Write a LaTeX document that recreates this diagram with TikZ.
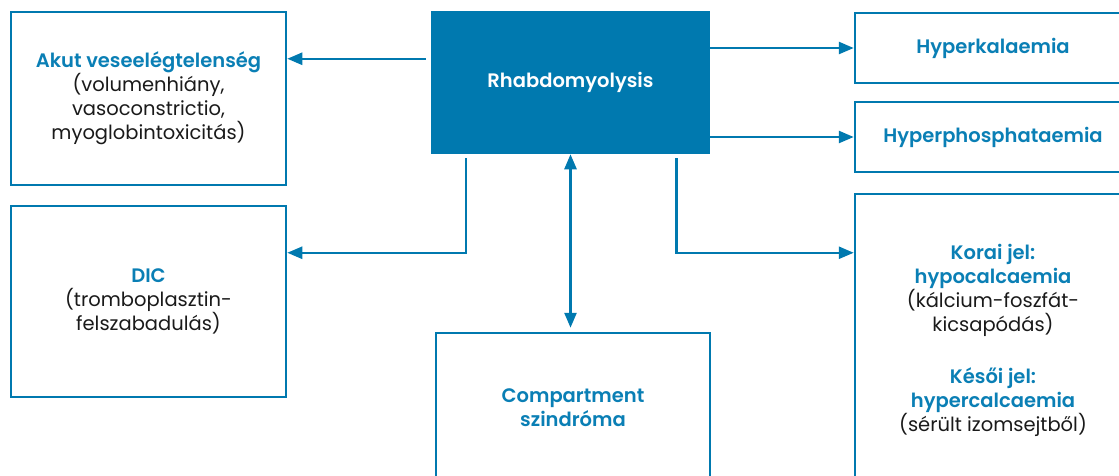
\documentclass[tikz,border=0pt]{standalone}
\usepackage{fontspec}
\setmainfont{Poppins}[BoldFont={Poppins SemiBold}]
\usetikzlibrary{arrows.meta}
\definecolor{mblue}{HTML}{0079AF}
\definecolor{tblue}{HTML}{0A7FB5}
\definecolor{tblack}{HTML}{1A1A1A}
\tikzset{
  box/.style={draw=mblue, line width=2.5pt, fill=white, align=center, inner sep=0pt,
     font=\fontsize{19.5}{24}\selectfont, text=tblack},
  arr/.style={draw=mblue, line width=2.5pt, -{Triangle[length=15pt,width=12pt]}},
  darr/.style={draw=mblue, line width=2.5pt, {Triangle[length=15pt,width=12pt]}-{Triangle[length=15pt,width=12pt]}},
}
\newcommand{\hb}[1]{{\color{tblue}\bfseries #1}}
\begin{document}
\begin{tikzpicture}[x=1pt,y=-1pt]
\useasboundingbox (0,0) rectangle (1119,475);
% boxes
\node[box, minimum width=275pt, minimum height=173pt] (akut) at (148.5,98.5)
  {\hb{Akut veseelégtelenség}\\(volumenhiány,\\vasoconstrictio,\\myoglobintoxicitás)};
\node[box, minimum width=275pt, minimum height=191pt] (dic) at (148.5,301.5)
  {\hb{DIC}\\(tromboplasztin-\\felszabadulás)};
\node[box, draw=mblue, fill=mblue, minimum width=277pt, minimum height=141pt, text=white] (rhabdo) at (570.5,82.5)
  {\bfseries Rhabdomyolysis};
\node[box, minimum width=274pt, minimum height=150pt] (comp) at (573,408)
  {\hb{Compartment}\\\hb{szindróma}};
\node[box, minimum width=276pt, minimum height=70pt] (hk) at (993,48)
  {\hb{Hyperkalaemia}};
\node[box, minimum width=276pt, minimum height=70pt] (hp) at (993,137)
  {\hb{Hyperphosphataemia}};
\node[box, minimum width=276pt, minimum height=292pt] (ca) at (993,340)
  {\hb{Korai jel:}\\\hb{hypocalcaemia}\\(kálcium-foszfát-\\kicsapódás)\\[28pt]\hb{Késői jel:}\\\hb{hypercalcaemia}\\(sérült izomsejtből)};
% connectors
\draw[arr] ([shift={(-5,48)}]rhabdo.north west) -- ([shift={(0,48)}]akut.north east);
\draw[arr] (rhabdo.east |- hk.west) -- (hk.west);
\draw[arr] (rhabdo.east |- hp.west) -- (hp.west);
\draw[arr] ([shift={(35,4)}]rhabdo.south west) |- ([shift={(0,48)}]dic.north east);
\draw[arr] ([shift={(-34,4)}]rhabdo.south east) |- ([shift={(0,60)}]ca.north west);
\draw[darr, shorten >=4pt] (rhabdo.south) -- (rhabdo.south |- comp.north);
\end{tikzpicture}
\end{document}
